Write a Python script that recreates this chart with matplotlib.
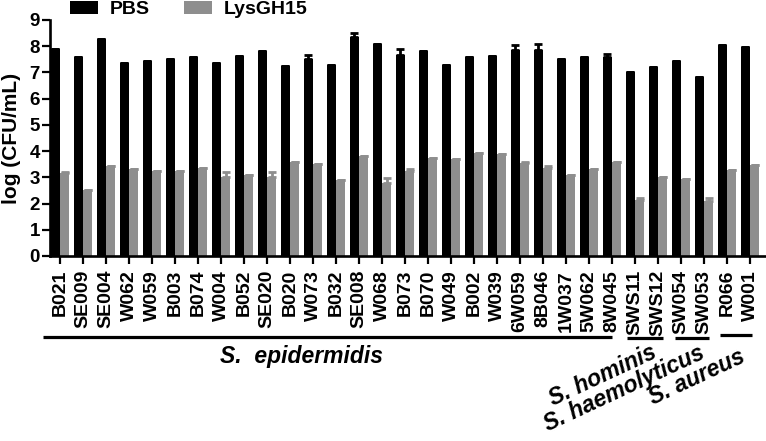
import matplotlib
matplotlib.use("Agg")
import matplotlib.pyplot as plt
import matplotlib.transforms as mtransforms
from matplotlib.patches import Patch
import numpy as np

plt.rcParams['font.family'] = ['Liberation Sans', 'DejaVu Sans']
plt.rcParams['font.weight'] = 'bold'

strains = ["B021", "SE009", "SE004", "W062", "W059", "B003", "B074", "W004", "B052",
           "SE020", "B020", "W073", "B032", "SE008", "W068", "B073", "B070", "W049",
           "B002", "W039", "6W059", "8B046", "1W037", "5W062", "8W045", "SWS11",
           "SWS12", "SW054", "SW053", "R066", "W001"]

pbs = [7.88, 7.60, 8.27, 7.35, 7.43, 7.52, 7.57, 7.35, 7.62, 7.80, 7.25, 7.50, 7.27,
       8.35, 8.10, 7.68, 7.80, 7.27, 7.58, 7.63, 7.86, 7.86, 7.53, 7.57, 7.58, 7.00,
       7.22, 7.43, 6.82, 8.05, 7.96]
pbs_err = [0, 0, 0, 0, 0, 0, 0, 0, 0, 0, 0, 0.17, 0, 0.15, 0, 0.20, 0, 0, 0, 0,
           0.20, 0.22, 0, 0, 0.13, 0, 0, 0, 0, 0, 0]

lys = [3.16, 2.52, 3.43, 3.31, 3.24, 3.24, 3.37, 3.00, 3.10, 3.00, 3.60, 3.50, 2.90,
       3.82, 2.80, 3.25, 3.73, 3.70, 3.92, 3.90, 3.53, 3.35, 3.10, 3.30, 3.60, 2.14,
       3.00, 2.93, 2.10, 3.28, 3.47]
lys_err = [0.05, 0, 0, 0, 0, 0, 0, 0.20, 0, 0.20, 0, 0, 0, 0, 0.17, 0.05, 0, 0, 0, 0,
           0.05, 0.10, 0, 0, 0, 0.07, 0, 0, 0.12, 0, 0]

series_names = ["PBS", "LysGH15"]
yticks = list(range(0, 10))

# species groups: (label, first index, last index)
groups = [("S.  epidermidis", 0, 24), ("S. hominis", 25, 26),
          ("S. haemolyticus", 27, 28), ("S. aureus", 29, 30)]

BLACK = "#000000"
GRAY = "#8e8e8e"

W, H = 766, 441
fig = plt.figure(figsize=(W / 100, H / 100), dpi=100)
ax = fig.add_axes([50 / W, 1 - 256 / H, 715 / W, 236 / H])

x = np.arange(len(strains))
bw = 0.37
off = 0.2
ax.bar(x - off, pbs, width=bw, color=BLACK, zorder=2)
ax.bar(x + off, lys, width=bw, color=GRAY, zorder=2)
ax.errorbar(x - off, pbs, yerr=[np.zeros(len(pbs)), pbs_err], fmt='none',
            ecolor=BLACK, elinewidth=2, capsize=2.8, capthick=2, zorder=3)
ax.errorbar(x + off, lys, yerr=[np.zeros(len(lys)), lys_err], fmt='none',
            ecolor=GRAY, elinewidth=2, capsize=2.8, capthick=2, zorder=3)

ax.set_xlim(-0.435, 30.65)
ax.set_ylim(0, 9)
ax.set_yticks(yticks)
ax.set_yticklabels([str(t) for t in yticks], fontsize=13.5, fontweight='bold')
ax.set_xticks(x)
ax.set_xticklabels(strains, rotation=90, fontsize=14, fontweight='bold')
ax.tick_params(axis='x', length=5.5, width=1.6, pad=4.5, direction='out')
ax.tick_params(axis='y', length=5.8, width=1.6, pad=1.5, direction='out')
for s in ['top', 'right']:
    ax.spines[s].set_visible(False)
for s in ['left', 'bottom']:
    ax.spines[s].set_linewidth(1.9)

ax.set_ylabel("log (CFU/mL)", fontsize=15, fontweight='bold')
ax.yaxis.set_label_coords(-0.040, 0.5)

# legend
handles = [Patch(facecolor=BLACK, edgecolor='none'), Patch(facecolor=GRAY, edgecolor='none')]
fig.legend(handles, series_names, loc='center left', bbox_to_anchor=(70 / W, 1 - 9.5 / H),
           ncol=2, frameon=False, prop={'weight': 'bold', 'size': 14},
           handlelength=1.45, handleheight=0.7, handletextpad=0.6, columnspacing=1.75,
           borderpad=0, borderaxespad=0)

# group lines
trans = mtransforms.blended_transform_factory(ax.transData, ax.transAxes)
line_pad = [(-0.74, 0.0), (-0.35, 0.2), (-0.28, 0.2), (-0.3, 0.1)]
line_y = [-0.343, -0.347, -0.347, -0.335]
for (name, a, b), (pl, pr), ly in zip(groups, line_pad, line_y):
    ax.plot([a + pl, b + pr], [ly, ly], color='black', lw=2.3, transform=trans,
            clip_on=False, solid_capstyle='butt')

# group labels
def figxy(px, py):
    return px / W, 1 - py / H

fx, fy = figxy(302, 357)
fig.text(fx, fy, groups[0][0], ha='center', va='center', fontsize=16.5,
         fontweight='bold', style='italic')
for (name, a, b), (px, py), rot in zip(groups[1:], [(603, 376), (624, 389), (697, 377)],
                                       [25, 25, 25]):
    fx, fy = figxy(px, py)
    fig.text(fx, fy, name, ha='center', va='center', fontsize=16.5, fontweight='bold',
             style='italic', rotation=rot, rotation_mode='anchor')

fig.savefig("out.png", dpi=100)
